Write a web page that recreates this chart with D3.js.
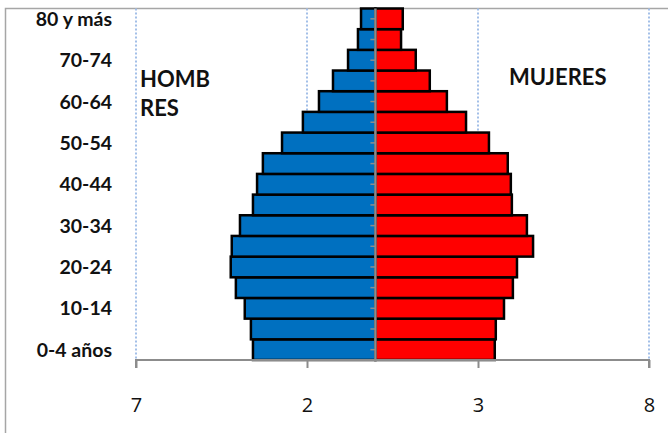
<!DOCTYPE html>
<html>
<head>
<meta charset="utf-8">
<script src="https://cdn.jsdelivr.net/npm/d3@7"></script>
<style>
  body { margin: 0; background: #fff; }
  svg { display: block; }
</style>
</head>
<body>
<div id="chart"></div>
<script>
// age groups, bottom to top
const ageGroups = ["0-4 años", "5-9", "10-14", "15-19", "20-24", "25-29", "30-34", "35-39",
  "40-44", "45-49", "50-54", "55-59", "60-64", "65-69", "70-74", "75-79", "80 y más"];
const hombres = [3.58, 3.64, 3.82, 4.08, 4.23, 4.20, 3.96, 3.58,
  3.46, 3.29, 2.73, 2.12, 1.65, 1.24, 0.80, 0.51, 0.42];
const mujeres = [3.49, 3.52, 3.76, 4.02, 4.14, 4.61, 4.43, 3.99,
  3.96, 3.87, 3.32, 2.65, 2.09, 1.59, 1.18, 0.75, 0.80];
const xTicks = [-7, -2, 3, 8];
const shownAges = ["0-4 años", "10-14", "20-24", "30-34", "40-44", "50-54", "60-64", "70-74", "80 y más"];

const width = 668, height = 433;
const plot = { left: 136, right: 649, top: 8.5, bottom: 360 };

const svg = d3.select("#chart").append("svg")
  .attr("width", width).attr("height", height);

// chart border (cropped on right / bottom)
svg.append("path")
  .attr("d", `M5.5,${height + 2} V8.5 H${width + 2}`)
  .attr("fill", "none").attr("stroke", "#a6a6a6").attr("stroke-width", 1.5);

const x = d3.scaleLinear().domain([-7, 8]).range([plot.left, plot.right]);
const y = d3.scaleBand().domain(ageGroups.slice().reverse()).range([plot.top, plot.bottom]).padding(0);

// dotted gridlines
svg.append("g").selectAll("line").data(xTicks).join("line")
  .attr("x1", d => x(d)).attr("x2", d => x(d))
  .attr("y1", plot.top).attr("y2", plot.bottom)
  .attr("stroke", "#a3bfe8").attr("stroke-width", 2)
  .attr("stroke-dasharray", "2,2");

const rows = ageGroups.map((a, i) => ({ age: a, m: hombres[i], f: mujeres[i] }));

svg.append("g").selectAll("rect").data(rows).join("rect")
  .attr("x", d => x(-d.m)).attr("width", d => x(0) - x(-d.m))
  .attr("y", d => y(d.age)).attr("height", y.bandwidth())
  .attr("fill", "#0070c0").attr("stroke", "#000").attr("stroke-width", 2.5);

svg.append("g").selectAll("rect").data(rows).join("rect")
  .attr("x", x(0)).attr("width", d => x(d.f) - x(0))
  .attr("y", d => y(d.age)).attr("height", y.bandwidth())
  .attr("fill", "#ff0000").attr("stroke", "#000").attr("stroke-width", 2.5);

// category axis at zero
const yAxis = svg.append("g").attr("transform", `translate(${x(0)},0)`);
yAxis.append("line").attr("y1", plot.top).attr("y2", plot.bottom)
  .attr("stroke", "#8c8c8c").attr("stroke-width", 2.5);
yAxis.selectAll("line.tick").data(ageGroups).join("line").attr("class", "tick")
  .attr("x1", -5).attr("x2", 0)
  .attr("y1", d => y(d) + y.bandwidth() / 2).attr("y2", d => y(d) + y.bandwidth() / 2)
  .attr("stroke", "#8c8c8c").attr("stroke-width", 1.5);

// age labels
svg.append("g").selectAll("text").data(shownAges).join("text")
  .attr("x", 112).attr("y", d => y(d) + y.bandwidth() / 2)
  .attr("dy", "0.36em").attr("text-anchor", "end")
  .attr("font-family", "Lato, 'Open Sans', sans-serif")
  .attr("font-size", 19.5).attr("font-weight", 700).attr("fill", "#111")
  .text(d => d);

// value axis
const xAxis = svg.append("g").attr("transform", `translate(0,${plot.bottom})`)
  .call(d3.axisBottom(x).tickValues(xTicks).tickSize(8).tickPadding(30)
    .tickFormat(d => Math.abs(d)));
xAxis.select(".domain").attr("stroke", "#8c8c8c").attr("stroke-width", 2)
  .attr("d", `M${plot.left},8V0H${plot.right}V8`);
xAxis.selectAll(".tick line").attr("stroke", "#8c8c8c").attr("stroke-width", 2);
xAxis.selectAll(".tick text")
  .attr("font-family", "'Open Sans', sans-serif").attr("font-size", 20).attr("fill", "#111");

// series labels
const lab = svg.append("g").attr("font-family", "Lato, 'Open Sans', sans-serif")
  .attr("font-size", 22).attr("font-weight", 700).attr("fill", "#111");
lab.append("text").attr("x", 140).attr("y", 87).text("HOMB");
lab.append("text").attr("x", 140).attr("y", 116).text("RES");
lab.append("text").attr("x", 509).attr("y", 85).text("MUJERES");
</script>
</body>
</html>
